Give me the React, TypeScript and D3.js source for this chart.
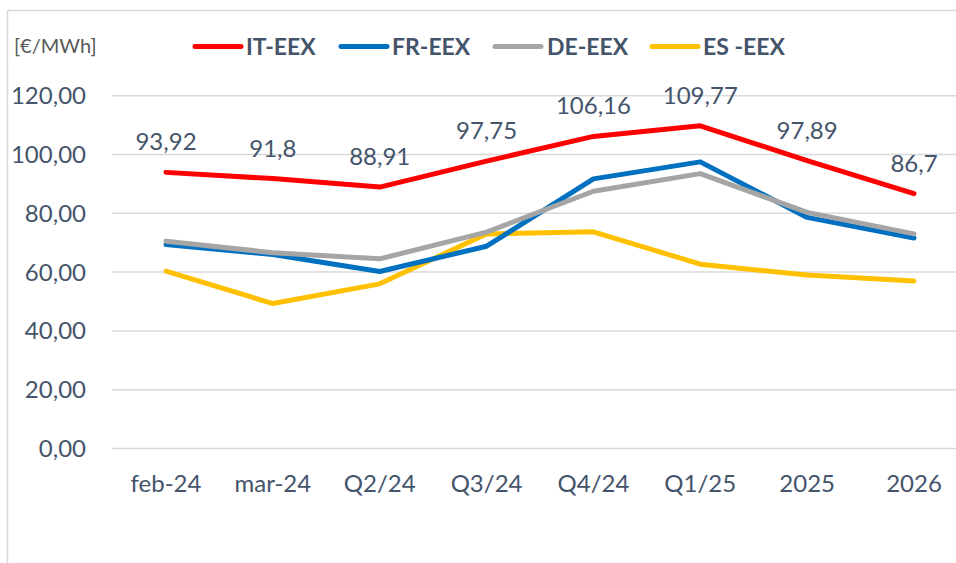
import React from "react";
import * as d3 from "d3";

const categories = ["feb-24", "mar-24", "Q2/24", "Q3/24", "Q4/24", "Q1/25", "2025", "2026"];
const itValues = [93.92, 91.8, 88.91, 97.75, 106.16, 109.77, 97.89, 86.7];
const frValues = [69.4, 66.0, 60.2, 68.8, 91.7, 97.5, 78.6, 71.6];
const deValues = [70.5, 66.6, 64.5, 73.6, 87.5, 93.5, 80.3, 73.0];
const esValues = [60.3, 49.3, 56.0, 73.0, 73.7, 62.7, 59.0, 57.0];
const itLabels = ["93,92", "91,8", "88,91", "97,75", "106,16", "109,77", "97,89", "86,7"];
const yTicks = [0, 20, 40, 60, 80, 100, 120];

const series = [
  { name: "IT-EEX", values: itValues, color: "#FF0000" },
  { name: "FR-EEX", values: frValues, color: "#0070C0" },
  { name: "DE-EEX", values: deValues, color: "#A5A5A5" },
  { name: "ES -EEX", values: esValues, color: "#FFC000" },
];

const drawOrder = [3, 1, 2, 0];

export default function App() {
  const W = 956;
  const H = 563;
  const x = d3.scalePoint<string>().domain(categories).range([166, 914]);
  const y = d3.scaleLinear().domain([0, 120]).range([448.5, 95.7]);
  const line = d3
    .line<number>()
    .x((_, i) => x(categories[i]) as number)
    .y((d) => y(d));
  const textColor = "#44546A";
  const font = "Lato, 'Open Sans', sans-serif";
  const legendItems = [
    { lx: 195, tx: 246 },
    { lx: 341, tx: 392 },
    { lx: 495, tx: 547 },
    { lx: 652, tx: 703 },
  ];
  return (
    <svg
      width={W}
      height={H}
      style={{ position: "absolute", left: 0, top: 0, background: "#fff" }}
      fontFamily={font}
    >
      <rect x={0} y={0} width={W} height={H} fill="#fff" />
      <line x1={7.5} y1={10.5} x2={W} y2={10.5} stroke="#D9D9D9" strokeWidth={1.5} />
      <line x1={7.5} y1={10.5} x2={7.5} y2={H} stroke="#D9D9D9" strokeWidth={1.5} />
      <text x={14} y={53} fontSize={20} fill="#595959">[€/MWh]</text>
      {series.map((s, i) => (
        <g key={s.name}>
          <line
            x1={legendItems[i].lx}
            x2={legendItems[i].lx + 46}
            y1={46.5}
            y2={46.5}
            stroke={s.color}
            strokeWidth={5}
            strokeLinecap="round"
          />
          <text x={legendItems[i].tx} y={55} fontSize={23} fontWeight="bold" fill={textColor}>
            {s.name}
          </text>
        </g>
      ))}
      {yTicks.map((t) => (
        <g key={t}>
          <line x1={112} x2={W} y1={y(t)} y2={y(t)} stroke="#D9D9D9" strokeWidth={1.5} />
          <text x={86} y={y(t)} dy="0.35em" textAnchor="end" fontSize={24} fill={textColor}>
            {d3.format(".2f")(t).replace(".", ",")}
          </text>
        </g>
      ))}
      {categories.map((c) => (
        <text key={c} x={x(c)} y={492} textAnchor="middle" fontSize={24} fill={textColor}>
          {c}
        </text>
      ))}
      {drawOrder.map((i) => (
        <path
          key={series[i].name}
          d={line(series[i].values) || ""}
          fill="none"
          stroke={series[i].color}
          strokeWidth={5}
          strokeLinejoin="round"
          strokeLinecap="round"
        />
      ))}
      {itValues.map((v, i) => (
        <text
          key={i}
          x={x(categories[i])}
          y={y(v) - 22}
          textAnchor="middle"
          fontSize={24}
          fill={textColor}
        >
          {itLabels[i]}
        </text>
      ))}
    </svg>
  );
}
